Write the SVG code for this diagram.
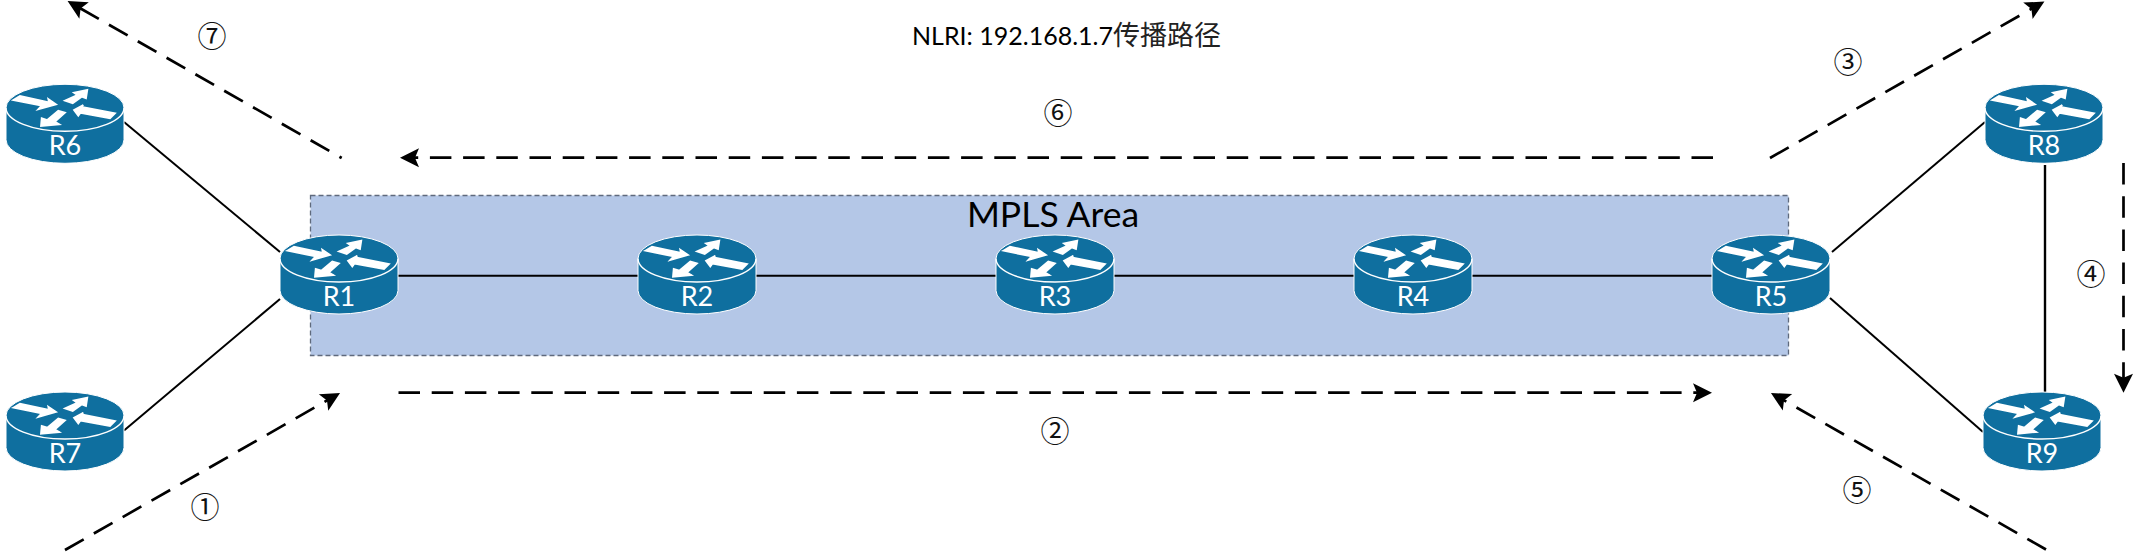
<svg xmlns="http://www.w3.org/2000/svg" width="2138" height="552" viewBox="0 0 2138 552">
<style>
text{font-family:"Lato","Noto Sans CJK SC",sans-serif}
.link{stroke:#000;stroke-width:2;fill:none}
.flow{stroke:#000;stroke-width:2.7;fill:none;stroke-dasharray:21.5 11.7;marker-end:url(#head)}
.lbl{fill:#fff;font-size:27px;text-anchor:middle}
.num{font-family:"Noto Sans CJK SC",sans-serif;font-size:29px;text-anchor:middle;fill:#111}
.ar{fill:#fff;stroke:#fff;stroke-width:1.8;stroke-linejoin:miter}
</style>
<defs>
<marker id="head" markerUnits="userSpaceOnUse" markerWidth="20" markerHeight="20" refX="7" refY="9.5" orient="auto" overflow="visible">
<path d="M0,0L19,9.5L0,19L4,9.5Z" fill="#000"/>
</marker>
<g id="router">
<path d="M0,23.5A59,23.5 0 0 1 118,23.5V55.5A59,23.5 0 0 1 0,55.5Z" fill="#0F6F9F" stroke="#fff" stroke-width="1"/>
<path d="M0,23.5A59,23.5 0 0 0 118,23.5" fill="none" stroke="#fff" stroke-width="1.4"/>
<path class="ar" d="M7.3,15.7L14,11.7L43,18L42.3,14.7L50,20L32.3,25L35.7,21.4Z"/>
<path class="ar" d="M59,16.4L66.7,19L75.7,12.4L80,14L81.3,5.7L68,8.4L71.3,10.7Z"/>
<path class="ar" d="M68,25.7L77.3,20.7L75.5,22.5L109,29L104,34L74.5,28.5L72.3,31.5Z"/>
<path class="ar" d="M35,41.7L35.7,34L41.3,35.7L52.3,26.4L59,28.4L49,37.4L53.3,40Z"/>
</g>
</defs>
<rect width="2138" height="552" fill="#fff"/>
<g id="mpls-area">
<rect x="310.5" y="195.5" width="1478" height="160" fill="#B4C7E7" stroke="#5F6A7D" stroke-width="1.3" stroke-dasharray="5 3"/>
<text x="1053" y="227" font-size="35.5" text-anchor="middle" fill="#000">MPLS Area</text>
</g>
<g id="connectors">
<path class="link" d="M124,122L280,252"/>
<path class="link" d="M124,430.5L280,299"/>
<path class="link" d="M398,275.7H1712"/>
<path class="link" d="M1832,252L1985,122"/>
<path class="link" d="M1830,298L1983,432"/>
<path class="link" style="stroke-width:2.4" d="M2045,165V392"/>
<path class="flow" d="M65,550L329.6,399"/>
<path class="flow" d="M398.5,392.7H1700"/>
<path class="flow" d="M1770,158L2034,7.4"/>
<path class="flow" d="M2123.5,163V380.7"/>
<path class="flow" d="M2046,549.5L1781.4,398.9"/>
<path class="flow" d="M1713,157.7H412"/>
<path class="flow" style="stroke-dashoffset:18.9" d="M341.7,158L78,7"/>
</g>
<g id="R1" transform="translate(280,235)"><use href="#router"/><text class="lbl" x="59" y="71">R1</text></g>
<g id="R2" transform="translate(638,235)"><use href="#router"/><text class="lbl" x="59" y="71">R2</text></g>
<g id="R3" transform="translate(996,235)"><use href="#router"/><text class="lbl" x="59" y="71">R3</text></g>
<g id="R4" transform="translate(1354,235)"><use href="#router"/><text class="lbl" x="59" y="71">R4</text></g>
<g id="R5" transform="translate(1712,235)"><use href="#router"/><text class="lbl" x="59" y="71">R5</text></g>
<g id="R6" transform="translate(6,84.3)"><use href="#router"/><text class="lbl" x="59" y="71">R6</text></g>
<g id="R7" transform="translate(6,392)"><use href="#router"/><text class="lbl" x="59" y="71">R7</text></g>
<g id="R8" transform="translate(1985,84.3)"><use href="#router"/><text class="lbl" x="59" y="71">R8</text></g>
<g id="R9" transform="translate(1983,392)"><use href="#router"/><text class="lbl" x="59" y="71">R9</text></g>
<g id="labels">
<text x="912" y="45" font-size="25" fill="#000">NLRI: 192.168.1.7<tspan font-size="27" fill="#222" font-family="'Noto Sans CJK SC',sans-serif">传播路径</tspan></text>
<text class="num" x="205" y="518">①</text>
<text class="num" x="1055" y="442">②</text>
<text class="num" x="1848" y="73">③</text>
<text class="num" x="2091" y="285">④</text>
<text class="num" x="1857" y="501">⑤</text>
<text class="num" x="1058" y="124">⑥</text>
<text class="num" x="212" y="47">⑦</text>
</g>
</svg>
